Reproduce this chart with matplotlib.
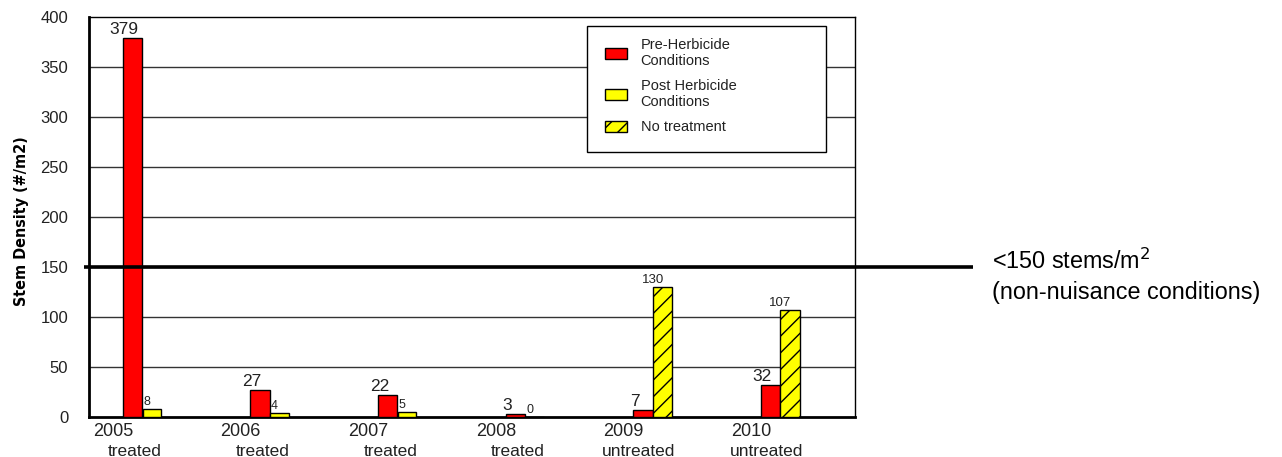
import matplotlib
matplotlib.use('Agg')
import matplotlib.pyplot as plt
import matplotlib.transforms as mtransforms
from matplotlib.patches import Patch, Rectangle
import numpy as np

plt.rcParams['font.family'] = ['Liberation Sans', 'DejaVu Sans']
plt.rcParams['hatch.linewidth'] = 1.0

years = ['2005', '2006', '2007', '2008', '2009', '2010']
status = ['treated', 'treated', 'treated', 'treated', 'untreated', 'untreated']
pre = [379, 27, 22, 3, 7, 32]
post = [8, 4, 5, 0, None, None]
no_treat = [None, None, None, None, 130, 107]
threshold = 150

W, H = 1282, 457
fig = plt.figure(figsize=(W / 100, H / 100), dpi=100)
ax = fig.add_axes([89 / W, 1 - 417 / H, 766 / W, 400 / H])

x = np.arange(len(years))
w = 0.153
shift = -0.008
ink = '#222222'

def label(xv, v, dx, size):
    ax.annotate(str(v), (xv, v), xytext=(dx, 1), textcoords='offset points',
                ha='center', va='bottom', fontsize=size, color=ink, zorder=6)

# red bars for pre-herbicide counts
ax.bar(x + shift - w, pre, w, color='#ff0000', edgecolor='black', lw=1, zorder=3)
for xi, v in zip(x, pre):
    label(xi + shift - w, v, -6, 12.5)

# yellow bars: post herbicide, or hatched where nothing was applied
for xi, v in zip(x, post):
    if v is None:
        continue
    ax.bar(xi + shift, v, w * 0.95, color='#ffff00', edgecolor='black', lw=1, zorder=3)
    label(xi + shift, v, -3.6, 9)
for xi, v in zip(x, no_treat):
    if v is None:
        continue
    ax.bar(xi + shift, v, w, color='#ffff00', edgecolor='black', lw=1, hatch='//', zorder=3)
    label(xi + shift, v, -7, 9.5)

ax.set_xlim(-0.5, len(years) - 0.5)
ax.set_ylim(0, 400)
ax.set_yticks(range(0, 401, 50))
ax.tick_params(axis='y', length=0, pad=15, labelsize=12, labelcolor=ink)
ax.set_xticks([])
for y in range(50, 400, 50):
    ax.axhline(y, color='#333333', lw=1, zorder=1)
for s in ['top', 'right']:
    ax.spines[s].set_linewidth(1)
for s in ['left', 'bottom']:
    ax.spines[s].set_linewidth(2)

fig.text(22 / W, 1 - 221 / H, 'Stem Density (#/m2)', rotation=90, ha='center', va='center',
         fontsize=11.5, fontweight='bold', fontstretch='condensed',
         family=['DejaVu Sans'], color='black')

# category labels under each group
tr = mtransforms.blended_transform_factory(ax.transData, ax.transAxes)
for xi, yr, st in zip(x, years, status):
    ax.text(xi - 0.5 + 24 / 127.7, -15 / 400, yr, transform=tr, ha='center', va='center',
            fontsize=13, color=ink)
    off = 46 if st == 'treated' else 39
    ax.text(xi - 0.5 + off / 127.7, -34 / 400, st, transform=tr, ha='center', va='center',
            fontsize=12.5, color=ink)

# threshold line running out into the margin
trf = mtransforms.blended_transform_factory(fig.transFigure, ax.transData)
ax.plot([84 / W, 973 / W], [threshold, threshold], transform=trf, color='black',
        lw=2.6, clip_on=False, zorder=5, solid_capstyle='butt')
fig.text(992 / W, 1 - 261 / H, '<150 stems/m$^2$', fontsize=16.8, va='center', ha='left')
fig.text(992 / W, 1 - 292 / H, '(non-nuisance conditions)', fontsize=16.8, va='center', ha='left')

# legend box drawn separately so it can be sized freely
ax.add_patch(Rectangle((498 / 766, 265 / 400), 239 / 766, 126 / 400, transform=ax.transAxes,
                       facecolor='white', edgecolor='black', lw=1, zorder=4))
handles = [Patch(facecolor='#ff0000', edgecolor='black'),
           Patch(facecolor='#ffff00', edgecolor='black'),
           Patch(facecolor='#ffff00', edgecolor='black', hatch='//')]
labels = ['Pre-Herbicide\nConditions', 'Post Herbicide\nConditions', 'No treatment']
leg = ax.legend(handles, labels, loc='upper left', bbox_to_anchor=(516 / 766, 379 / 400),
                fontsize=10.5, frameon=False, borderpad=0, borderaxespad=0,
                handlelength=1.5, handleheight=0.75, labelspacing=0.75, handletextpad=0.95)
leg.set_zorder(6)
for t in leg.get_texts():
    t.set_color(ink)

fig.savefig('out.png', dpi=100)
